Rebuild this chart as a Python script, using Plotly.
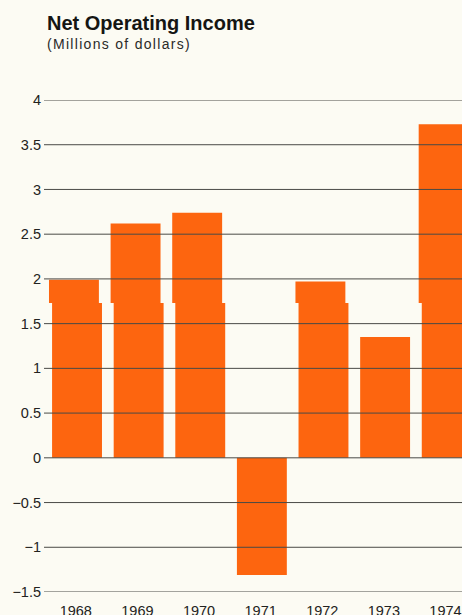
import plotly.graph_objects as go

years = ["1968", "1969", "1970", "1971", "1972", "1973", "1974"]
income = [1.99, 2.62, 2.74, -1.31, 1.97, 1.35, 3.73]
y_ticks = [-1.5, -1, -0.5, 0, 0.5, 1, 1.5, 2, 2.5, 3, 3.5, 4]
y_tick_text = ["\u22121.5", "\u22121", "\u22120.5", "0", "0.5", "1", "1.5", "2", "2.5", "3", "3.5", "4"]

# printing misregistration of the original: the part of each bar above this
# level sits slightly to the left of the part below it
PLATE_SPLIT = 1.73
PLATE_SHIFT = -0.05

BG = "#FCFBF3"
BAR = "#FD650F"
GRID = "#4a4a46"
TXT = "#222220"

x_pos = list(range(len(years)))
lower = [min(v, PLATE_SPLIT) if v > 0 else v for v in income]
upper_x = [x + PLATE_SHIFT for x, v in zip(x_pos, income) if v > PLATE_SPLIT]
upper_h = [v - PLATE_SPLIT for v in income if v > PLATE_SPLIT]

fig = go.Figure()
fig.add_trace(go.Bar(
    x=x_pos, y=lower, width=0.81,
    marker=dict(color=BAR, line=dict(width=0)),
    hoverinfo="skip",
))
fig.add_trace(go.Bar(
    x=upper_x, y=upper_h, base=PLATE_SPLIT, width=0.81,
    marker=dict(color=BAR, line=dict(width=0)),
    hoverinfo="skip",
))

shapes = []
for v in y_ticks:
    shapes.append(dict(type="line", xref="paper", x0=0, x1=1, yref="y", y0=v, y1=v,
                       line=dict(color=GRID, width=1), layer="above"))

fig.update_layout(
    width=462, height=615,
    margin=dict(l=44, r=0, t=100, b=23),
    paper_bgcolor=BG, plot_bgcolor=BG,
    showlegend=False, barmode="overlay",
    font=dict(family="Liberation Sans, Arial, sans-serif", color=TXT, size=14),
    xaxis=dict(
        range=[-0.536, 6.248], tickvals=[x - 0.02 for x in x_pos], ticktext=years,
        showgrid=False, zeroline=False, showline=False, ticks="",
        ticklabelstandoff=8, tickfont=dict(size=14.5, color=TXT),
        fixedrange=True, automargin=False,
    ),
    yaxis=dict(
        range=[-1.5, 4], tickvals=y_ticks, ticktext=y_tick_text,
        showgrid=False, zeroline=False, showline=False, ticks="",
        ticklabelstandoff=2, tickfont=dict(size=14.5, color=TXT),
        fixedrange=True, automargin=False,
    ),
    shapes=shapes,
    annotations=[
        dict(text="<b>Net Operating Income</b>", xref="paper", yref="paper",
             x=0.003, y=1.1555, xanchor="left", yanchor="middle", showarrow=False,
             font=dict(size=20, color="#151513")),
        dict(text="<span style='letter-spacing:1.3px'>(Millions of dollars)</span>",
             xref="paper", yref="paper",
             x=0.003, y=1.114, xanchor="left", yanchor="middle", showarrow=False,
             font=dict(size=14, color="#2a2a28")),
    ],
)

fig.write_html("out.html")
